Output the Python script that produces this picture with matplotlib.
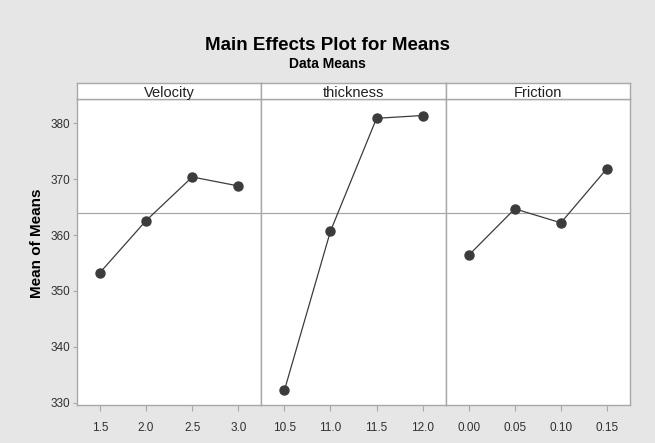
import matplotlib.pyplot as plt
import numpy as np

plt.rcParams['font.family'] = ['Liberation Sans', 'DejaVu Sans']

# Factor names, levels and mean of means
factors = ['Velocity', 'thickness', 'Friction']
levels = [['1.5', '2.0', '2.5', '3.0'],
          ['10.5', '11.0', '11.5', '12.0'],
          ['0.00', '0.05', '0.10', '0.15']]
velocity_means = [353.3, 362.6, 370.4, 368.8]
thickness_means = [332.2, 360.7, 380.9, 381.4]
friction_means = [356.4, 364.7, 362.2, 371.9]
grand_mean = 363.9
yticks = [330, 340, 350, 360, 370, 380]

all_means = [velocity_means, thickness_means, friction_means]

W, H = 655, 443
fig = plt.figure(figsize=(W / 100, H / 100), dpi=100)
fig.patch.set_facecolor('#e6e6e6')

left, right = 77 / W, 630 / W
bottom, top = 1 - 405 / H, 1 - 99.3 / H
strip_top = 1 - 82.5 / H
pw = (right - left) / 3
border = '#a8a8a8'
dark = '#3c3c3c'

for i, (name, labs, vals) in enumerate(zip(factors, levels, all_means)):
    ax = fig.add_axes([left + i * pw, bottom, pw, top - bottom])
    x = np.arange(len(vals))
    ax.axhline(grand_mean, color=border, lw=0.9, zorder=1)
    ax.plot(x, vals, color=dark, lw=0.9, marker='o', markersize=6.5,
            markerfacecolor=dark, markeredgecolor=dark, zorder=3)
    ax.set_xlim(-0.5, len(vals) - 0.5)
    ax.set_ylim(329.6, 384.3)
    ax.set_xticks(x)
    ax.set_xticklabels(labs)
    ax.set_yticks(yticks)
    for s in ax.spines.values():
        s.set_color(border)
        s.set_linewidth(1.0)
    ax.tick_params(axis='x', length=4, color=border, labelsize=8.5,
                   labelcolor='#303030', pad=8)
    if i == 0:
        ax.tick_params(axis='y', length=3, color=border, labelsize=8.5,
                       labelcolor='#303030', pad=2)
        ax.set_ylabel('Mean of Means', fontsize=11, fontweight='bold')
        ax.yaxis.set_label_coords(-33 / 184, 0.53)
    else:
        ax.tick_params(axis='y', left=False, labelleft=False)

    sx = fig.add_axes([left + i * pw, top, pw, strip_top - top])
    sx.set_xticks([])
    sx.set_yticks([])
    for s in sx.spines.values():
        s.set_color(border)
        s.set_linewidth(1.0)
    sx.text(0.5, 0.38, name, ha='center', va='center', fontsize=10.5,
            transform=sx.transAxes, color='#202020')

fig.text(0.5, 1 - 46 / H, 'Main Effects Plot for Means', ha='center',
         va='center', fontsize=13.5, fontweight='bold')
fig.text(0.5, 1 - 64 / H, 'Data Means', ha='center', va='center',
         fontsize=10, fontweight='bold')

fig.savefig('out.png', dpi=100, facecolor=fig.get_facecolor())
